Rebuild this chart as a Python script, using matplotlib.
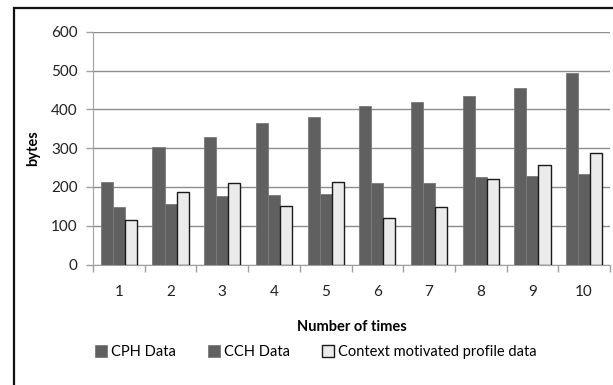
import matplotlib.pyplot as plt
import numpy as np
from matplotlib.patches import Rectangle

# data
times = ['1', '2', '3', '4', '5', '6', '7', '8', '9', '10']
cph_data = [213, 304, 330, 365, 380, 410, 420, 435, 455, 495]
cch_data = [149, 155, 177, 179, 182, 210, 210, 226, 229, 234]
context_data = [116, 187, 210, 150, 213, 120, 148, 221, 257, 288]
y_ticks = [0, 100, 200, 300, 400, 500, 600]

plt.rcParams['font.family'] = ['Lato', 'DejaVu Sans']

fig = plt.figure(figsize=(6.13, 3.85), dpi=100)
ax = fig.add_axes([93 / 613, 1 - 264.5 / 385, 517 / 613, 232.5 / 385])

x = np.arange(len(times))
w = 0.233
ax.bar(x - w, cph_data, w, color='#606060', edgecolor='#7a7a7a', linewidth=0.6,
       label='CPH Data', zorder=3)
ax.bar(x, cch_data, w, color='#606060', edgecolor='#7a7a7a', linewidth=0.6,
       label='CCH Data', zorder=3)
ax.bar(x + w, context_data, w, color='#ebebeb', edgecolor='#1a1a1a', linewidth=1.0,
       label='Context motivated profile data', zorder=3)

ax.set_xlim(-0.5, len(times) - 0.5)
ax.set_ylim(0, 600)
ax.set_yticks(y_ticks)
ax.set_xticks(x)
ax.set_xticklabels(times)
ax.set_xticks(np.arange(-0.5, len(times), 1.0), minor=True)
ax.tick_params(axis='x', which='major', length=0, pad=15, labelsize=11, colors='#222222')
ax.tick_params(axis='x', which='minor', length=5, color='#a0a0a0', width=1)
ax.tick_params(axis='y', length=5, color='#a0a0a0', width=1, labelsize=11,
               pad=6, colors='#a0a0a0', labelcolor='#222222')

ax.yaxis.grid(True, color='#8c8c8c', linewidth=1, zorder=0)
ax.set_axisbelow(True)
for s in ['top', 'right']:
    ax.spines[s].set_visible(False)
ax.spines['left'].set_color('#a0a0a0')
ax.spines['bottom'].set_color('#a0a0a0')

ax.set_xlabel('Number of times', fontsize=10.5, fontweight='bold', labelpad=15)
ax.set_ylabel('bytes', fontsize=10.5, fontweight='bold', labelpad=8)

fig.legend(loc='center', bbox_to_anchor=(316 / 613, 1 - 352 / 385), ncol=3,
           frameon=False, fontsize=10.5, handlelength=0.8, handleheight=0.8,
           handletextpad=0.3, columnspacing=2.2)

# chart frame
fig.patches.append(Rectangle((14 / 613, -0.05), 1.1, 1 - 8 / 385 + 0.05,
                             transform=fig.transFigure, fill=False,
                             edgecolor='#111111', linewidth=1.6))

fig.savefig('out.png', dpi=100)
